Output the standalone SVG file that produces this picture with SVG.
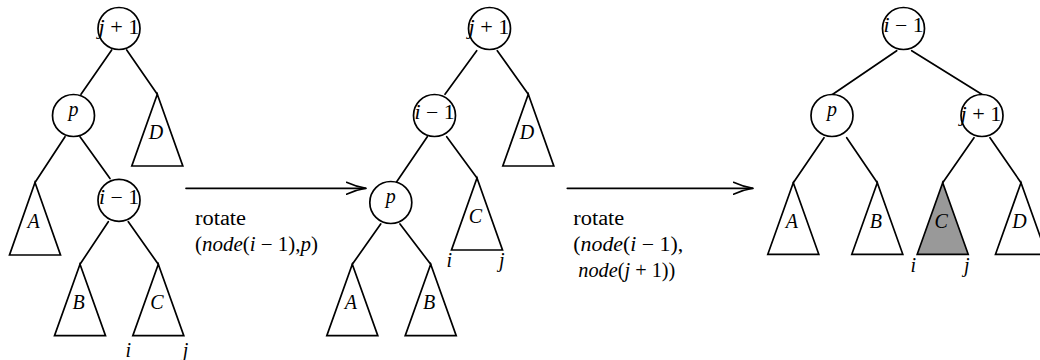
<svg xmlns="http://www.w3.org/2000/svg" width="1040" height="360" viewBox="0 0 1040 360">
<style>
  .edge { stroke:#000; stroke-width:1.7; fill:none; stroke-linecap:round; }
  .circ { fill:#fff; stroke:#000; stroke-width:1.7; }
  .tri { fill:#fff; stroke:#000; stroke-width:1.7; stroke-linejoin:miter; }
  .shaded { fill:#999999; }
  text { font-family:"Liberation Serif", "DejaVu Serif", serif; font-size:20px; fill:#000; }
  .it { font-style:italic; }
  .c { text-anchor:middle; }
</style>
<defs>
  <marker id="to" markerUnits="userSpaceOnUse" viewBox="0 0 22 14" markerWidth="22" markerHeight="14" refX="20.5" refY="7" orient="auto">
    <path d="M1,1 Q11,5.6 20.5,7 Q11,8.4 1,13" fill="none" stroke="#000" stroke-width="1.5" stroke-linecap="round"/>
  </marker>
</defs>
<rect width="1040" height="360" fill="#fff"/>

<g id="connectors">
  <!-- left tree -->
  <line class="edge" x1="111.7" y1="50" x2="81" y2="94.3"/>
  <line class="edge" x1="126.7" y1="50" x2="157.3" y2="94.3"/>
  <line class="edge" x1="65" y1="136.7" x2="35" y2="182.5"/>
  <line class="edge" x1="80" y1="136.7" x2="110" y2="178.5"/>
  <line class="edge" x1="108.3" y1="221.7" x2="80" y2="264.3"/>
  <line class="edge" x1="128.3" y1="221.7" x2="158.3" y2="264.3"/>
  <!-- middle tree -->
  <line class="edge" x1="476.7" y1="50.7" x2="445" y2="94.3"/>
  <line class="edge" x1="497.3" y1="50.7" x2="528.3" y2="94.3"/>
  <line class="edge" x1="427.3" y1="136.7" x2="396.7" y2="181.7"/>
  <line class="edge" x1="446.7" y1="136.7" x2="477" y2="178"/>
  <line class="edge" x1="380.7" y1="224" x2="352.3" y2="264.3"/>
  <line class="edge" x1="400" y1="224" x2="430.7" y2="264.3"/>
  <!-- right tree -->
  <line class="edge" x1="896.7" y1="50.7" x2="831.7" y2="95"/>
  <line class="edge" x1="911.7" y1="50.7" x2="981.7" y2="94.3"/>
  <line class="edge" x1="824" y1="137.7" x2="793.3" y2="182.7"/>
  <line class="edge" x1="846.7" y1="137.7" x2="877.3" y2="182.7"/>
  <line class="edge" x1="974" y1="137.7" x2="942.7" y2="182.7"/>
  <line class="edge" x1="990" y1="137.7" x2="1021" y2="182.7"/>
  <!-- rotation arrows -->
  <line class="edge" x1="186" y1="188.3" x2="366" y2="188.3" marker-end="url(#to)"/>
  <line class="edge" x1="567.3" y1="188.3" x2="753" y2="188.3" marker-end="url(#to)"/>
</g>

<g id="arrow1-label">
  <text x="195" y="225" textLength="51" lengthAdjust="spacingAndGlyphs">rotate</text>
  <text x="195" y="251" textLength="123" lengthAdjust="spacingAndGlyphs">(<tspan class="it">node</tspan>(<tspan class="it">i</tspan> − 1),<tspan class="it">p</tspan>)</text>
</g>
<g id="arrow2-label">
  <text x="573.3" y="225" textLength="51" lengthAdjust="spacingAndGlyphs">rotate</text>
  <text x="573.3" y="251" textLength="110" lengthAdjust="spacingAndGlyphs">(<tspan class="it">node</tspan>(<tspan class="it">i</tspan> − 1),</text>
  <text x="578.3" y="277" textLength="97" lengthAdjust="spacingAndGlyphs"><tspan class="it">node</tspan>(<tspan class="it">j</tspan> + 1))</text>
</g>

<!-- LEFT TREE -->
<g id="L-root">
  <circle class="circ" cx="119" cy="28.5" r="21"/>
  <text class="c" x="119" y="34" textLength="41" lengthAdjust="spacingAndGlyphs"><tspan class="it">j</tspan> + 1</text>
</g>
<g id="L-p">
  <circle class="circ" cx="73.5" cy="115.5" r="21"/>
  <text class="c it" x="73.5" y="116">p</text>
</g>
<g id="L-D">
  <polygon class="tri" points="157.3,94.3 131.8,166 182.8,166"/>
  <text class="c it" x="156" y="139.3">D</text>
</g>
<g id="L-A">
  <polygon class="tri" points="35,182.5 9.5,255 60.5,255"/>
  <text class="c it" x="33.5" y="227.5">A</text>
</g>
<g id="L-im1">
  <circle class="circ" cx="119" cy="200.3" r="21"/>
  <text class="c" x="119" y="204" textLength="40" lengthAdjust="spacingAndGlyphs"><tspan class="it">i</tspan> − 1</text>
</g>
<g id="L-B">
  <polygon class="tri" points="80,264.3 54.5,335.7 105.5,335.7"/>
  <text class="c it" x="78.5" y="309.3">B</text>
</g>
<g id="L-C">
  <polygon class="tri" points="158.3,264.3 132.8,335.7 183.8,335.7"/>
  <text class="c it" x="156.8" y="309.3">C</text>
  <text class="c it" x="128.3" y="357">i</text>
  <text class="c it" x="185.5" y="357">j</text>
</g>

<!-- MIDDLE TREE -->
<g id="M-root">
  <circle class="circ" cx="489.5" cy="28.5" r="21"/>
  <text class="c" x="489" y="34" textLength="41" lengthAdjust="spacingAndGlyphs"><tspan class="it">j</tspan> + 1</text>
</g>
<g id="M-im1">
  <circle class="circ" cx="434.5" cy="115.5" r="21"/>
  <text class="c" x="434.5" y="119" textLength="40" lengthAdjust="spacingAndGlyphs"><tspan class="it">i</tspan> − 1</text>
</g>
<g id="M-D">
  <polygon class="tri" points="528.3,94.3 502.8,166 553.8,166"/>
  <text class="c it" x="527" y="139.3">D</text>
</g>
<g id="M-p">
  <circle class="circ" cx="390.8" cy="202.5" r="21"/>
  <text class="c it" x="390.8" y="203">p</text>
</g>
<g id="M-C">
  <polygon class="tri" points="477,178 451.5,250 502.5,250"/>
  <text class="c it" x="475.5" y="223">C</text>
  <text class="c it" x="449.3" y="266.5">i</text>
  <text class="c it" x="501.7" y="266.5">j</text>
</g>
<g id="M-A">
  <polygon class="tri" points="352.3,264.3 326.8,335.7 377.8,335.7"/>
  <text class="c it" x="350.8" y="309.3">A</text>
</g>
<g id="M-B">
  <polygon class="tri" points="430.7,264.3 405.2,335.7 456.2,335.7"/>
  <text class="c it" x="429.2" y="309.3">B</text>
</g>

<!-- RIGHT TREE -->
<g id="R-root">
  <circle class="circ" cx="903.5" cy="28.5" r="21"/>
  <text class="c" x="903.5" y="32" textLength="40" lengthAdjust="spacingAndGlyphs"><tspan class="it">i</tspan> − 1</text>
</g>
<g id="R-p">
  <circle class="circ" cx="832" cy="115.5" r="21"/>
  <text class="c it" x="832" y="116">p</text>
</g>
<g id="R-jp1">
  <circle class="circ" cx="982" cy="115.5" r="21"/>
  <text class="c" x="981" y="121" textLength="41" lengthAdjust="spacingAndGlyphs"><tspan class="it">j</tspan> + 1</text>
</g>
<g id="R-A">
  <polygon class="tri" points="793.3,182.7 767.8,254.3 818.8,254.3"/>
  <text class="c it" x="791.8" y="227.7">A</text>
</g>
<g id="R-B">
  <polygon class="tri" points="877.3,182.7 851.8,254.3 902.8,254.3"/>
  <text class="c it" x="875.8" y="227.7">B</text>
</g>
<g id="R-C">
  <polygon class="tri shaded" points="942.7,182.7 917.2,254.3 968.2,254.3"/>
  <text class="c it" x="941.2" y="227.7">C</text>
  <text class="c it" x="913.3" y="271.5">i</text>
  <text class="c it" x="966.7" y="271.5">j</text>
</g>
<g id="R-D">
  <polygon class="tri" points="1021,182.7 995.5,254.3 1046.5,254.3"/>
  <text class="c it" x="1019.5" y="227.7">D</text>
</g>
</svg>
